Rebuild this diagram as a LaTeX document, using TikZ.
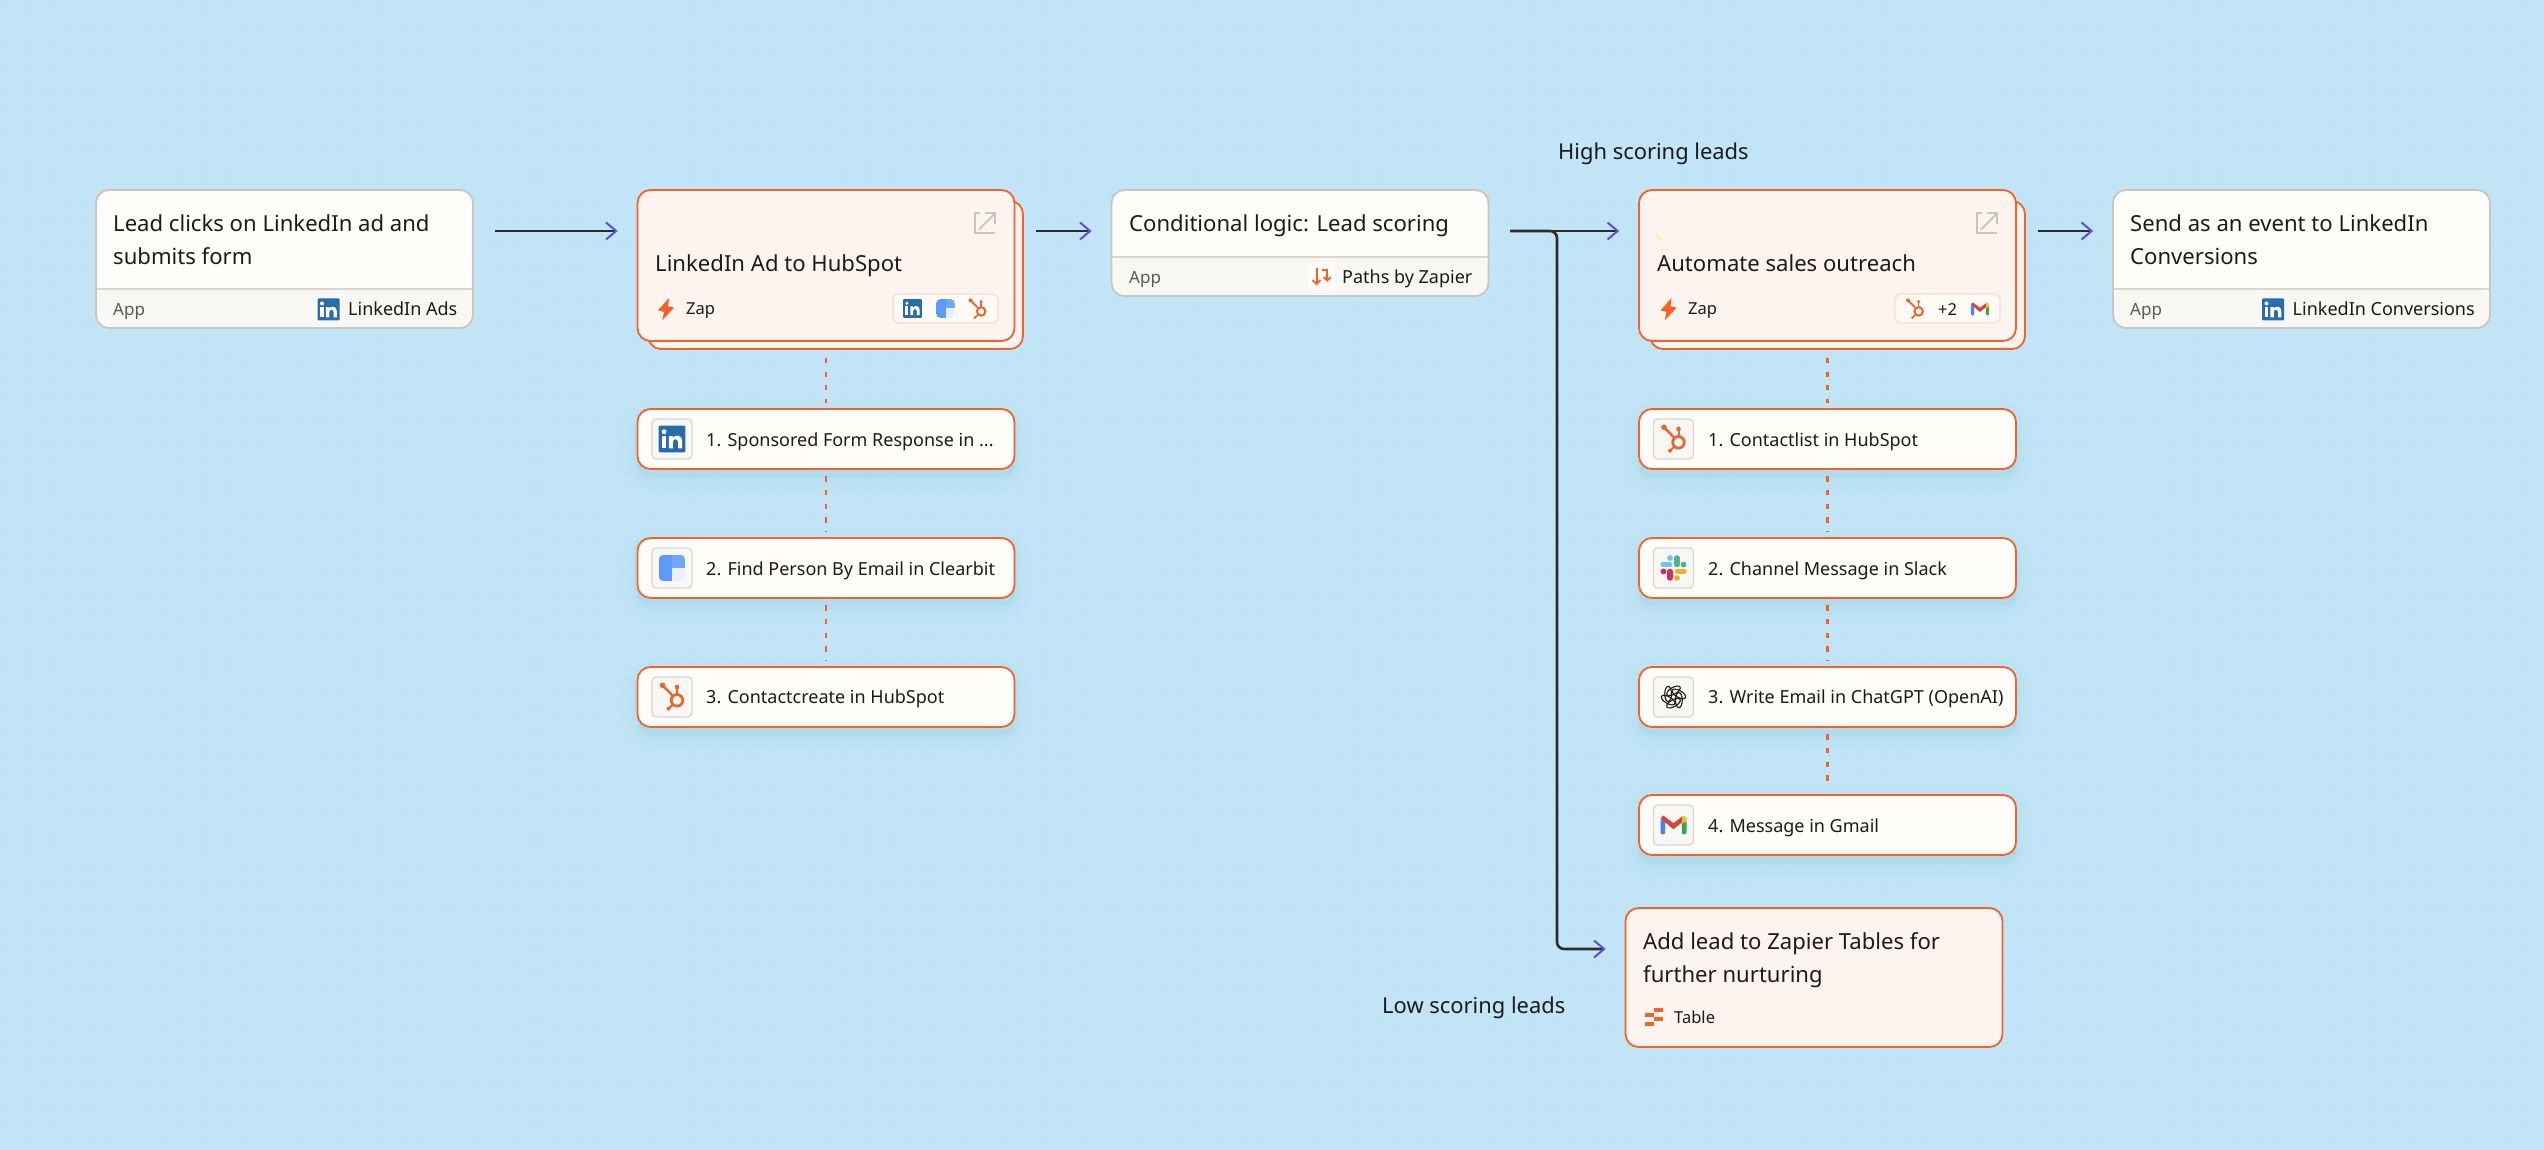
\documentclass[tikz,border=0pt]{standalone}
\usepackage{fontspec}
\setmainfont{Noto Sans}
\usetikzlibrary{arrows.meta}
\definecolor{PageBlue}{HTML}{C1E5F6}
\definecolor{DotBlue}{HTML}{B9DFF2}
\definecolor{CardWhite}{HTML}{FFFDFA}
\definecolor{FootGrey}{HTML}{F8F7F4}
\definecolor{EdgeGrey}{HTML}{C9C6BF}
\definecolor{RuleGrey}{HTML}{D9D6CE}
\definecolor{ZapOrange}{HTML}{F4622A}
\definecolor{ZapFill}{HTML}{FDF4F0}
\definecolor{PillEdge}{HTML}{F9DCCD}
\definecolor{PillFill}{HTML}{FFFAF6}
\definecolor{LineDark}{HTML}{2F2B29}
\definecolor{TipPurple}{HTML}{5B4FD9}
\definecolor{InkDark}{HTML}{1D1A18}
\definecolor{InkGrey}{HTML}{5C5853}
\definecolor{InBlue}{HTML}{2A6CAB}
\definecolor{HubOrange}{HTML}{E8662F}
\definecolor{BitBlue}{HTML}{5E9AF8}
\definecolor{BitMid}{HTML}{6EA8FB}
\definecolor{BitPale}{HTML}{E7F1FE}
\definecolor{ShadowBlue}{HTML}{7FB4D6}
\tikzstyle{GridDot}=[draw=DotBlue, line width=1.5pt, dash pattern=on 1.5pt off 12.05pt]
\tikzstyle{CardNode}=[rectangle, rounded corners=13pt, line width=1.8pt, minimum width=377pt]
\tikzstyle{AppNode}=[CardNode, draw=EdgeGrey, fill=CardWhite, path picture={
  \fill[FootGrey] ([yshift=39pt]path picture bounding box.south west) rectangle (path picture bounding box.south east);
  \draw[RuleGrey, line width=1.6pt] ([yshift=39pt]path picture bounding box.south west) -- ([yshift=39pt]path picture bounding box.south east);}]
\tikzstyle{ZapNode}=[CardNode, draw=ZapOrange, fill=ZapFill]
\tikzstyle{StepNode}=[CardNode, draw=ZapOrange, fill=CardWhite, minimum height=60pt,
  preaction={fill=ShadowBlue, draw=ShadowBlue, fill opacity=.04, draw opacity=.04, line width=30pt, transform canvas={yshift=-8pt}},
  preaction={fill=ShadowBlue, draw=ShadowBlue, fill opacity=.04, draw opacity=.04, line width=18pt, transform canvas={yshift=-8pt}},
  preaction={fill=ShadowBlue, draw=ShadowBlue, fill opacity=.04, draw opacity=.04, line width=7pt, transform canvas={yshift=-8pt}}]
\tikzstyle{IconBox}=[rectangle, rounded corners=4pt, draw=RuleGrey, fill=FootGrey, line width=1.3pt, minimum size=40pt]
\tikzstyle{PillNode}=[rectangle, rounded corners=6pt, draw=PillEdge, fill=PillFill, line width=1.4pt, minimum width=105pt, minimum height=29pt]
\tikzstyle{PathsBox}=[rectangle, rounded corners=4pt, fill=CardWhite, minimum size=27pt]
\tikzstyle{TitleText}=[anchor=base west, inner sep=0pt, align=left, text=InkDark, font=\fontsize{22.1}{33}\selectfont]
\tikzstyle{NoteText}=[TitleText, font=\fontsize{21.9}{26}\selectfont]
\tikzstyle{StepText}=[anchor=base west, inner sep=0pt, text=InkDark, font=\fontsize{18}{22}\selectfont]
\tikzstyle{FootText}=[StepText, font=\fontsize{18}{22}\selectfont]
\tikzstyle{AppText}=[FootText, text=InkGrey, font=\fontsize{17}{22}\selectfont]
\tikzstyle{ZapText}=[StepText, font=\fontsize{16.5}{20}\selectfont]
\tikzstyle{FlowEdge}=[draw=LineDark, line width=2.6pt, shorten <=21pt, shorten >=19pt,
  -{Straight Barb[color=TipPurple, length=10pt, width=17pt, line width=2pt]}]
\tikzstyle{StepEdge}=[draw=ZapOrange, line width=2.6pt, dash pattern=on 5.3pt off 8.3pt, shorten <=6.5pt, shorten >=5.5pt]
\tikzstyle{FirstEdge}=[StepEdge, shorten <=16pt]
\tikzset{
  pics/InIcon/.style={code={\begin{scope}[scale=#1]
    \fill[InBlue, rounded corners=1pt] (-11,-11) rectangle (11,11);
    \fill[white] (-6.5,-6) circle (2);
    \fill[white] (-8.2,-2.4) rectangle (-4.8,7.8);
    \fill[white] (-2.6,-2.4) -- (0.5,-2.4) -- (0.5,-1) .. controls (2.5,-3.8) and (8.4,-3.8) .. (8.4,2) -- (8.4,7.8) -- (5,7.8) -- (5,2.5) .. controls (5,-0.6) and (0.8,-0.6) .. (0.8,2.5) -- (0.8,7.8) -- (-2.6,7.8) -- cycle;
  \end{scope}}},
  pics/BitIcon/.style={code={\begin{scope}[scale=#1]
    \begin{scope}
      \clip[rounded corners=5pt] (-13.3,-13.3) rectangle (13.3,13.3);
      \fill[BitBlue] (-13.3,-13.3) rectangle (0,13.3);
      \fill[BitMid] (0,-13.3) rectangle (13.3,0);
      \fill[BitPale] (0,0) rectangle (13.3,13.3);
    \end{scope}
  \end{scope}}},
  pics/HubIcon/.style={code={\begin{scope}[scale=#1]
    \draw[HubOrange, line width=#1*2.8pt] (5,3.3) circle (5.8);
    \draw[HubOrange, line width=#1*2pt] (5,-10) -- (5,-2);
    \draw[HubOrange, line width=#1*2.4pt] (-9.5,-11.7) -- (1,-1);
    \draw[HubOrange, line width=#1*2pt] (-3.5,11.7) -- (1.5,7);
    \fill[HubOrange] (-9.5,-11.7) circle (2.8);
    \fill[HubOrange] (5,-10) circle (2.3);
    \fill[HubOrange] (-3.5,11.7) circle (2);
  \end{scope}}},
  pics/SlackIcon/.style={code={\begin{scope}[scale=#1]
    \draw[color={rgb,255:red,109;green,197;blue,238}, line width=5.4pt, line cap=round] (-10.5,-3.5) -- (-4,-3.5);
    \fill[color={rgb,255:red,109;green,197;blue,238}] (-3.5,-10) circle (2.9);
    \draw[color={rgb,255:red,77;green,181;blue,145}, line width=5.4pt, line cap=round] (3.5,-10) -- (3.5,-3.5);
    \fill[color={rgb,255:red,77;green,181;blue,145}] (10,-3.5) circle (2.9);
    \draw[color={rgb,255:red,236;green,178;blue,46}, line width=5.4pt, line cap=round] (4,3.5) -- (10.5,3.5);
    \fill[color={rgb,255:red,236;green,178;blue,46}] (3.5,10) circle (2.9);
    \draw[color={rgb,255:red,217;green,41;blue,95}, line width=5.4pt, line cap=round] (-3.5,3.5) -- (-3.5,10);
    \fill[color={rgb,255:red,217;green,41;blue,95}] (-10,3.5) circle (2.9);
  \end{scope}}},
  pics/GptIcon/.style={code={\begin{scope}[scale=#1]
    \foreach \a in {0,60,...,300}
      \draw[InkDark, line width=1.1pt, rotate=\a, shift={(0,-6.2)}, rotate=30] (0,0) ellipse (7.6 and 3.4);
  \end{scope}}},
  pics/GmailIcon/.style={code={\begin{scope}[scale=#1]
    \fill[color={rgb,255:red,66;green,133;blue,244}, rounded corners=1.5pt] (-13,-6) rectangle (-8.3,9.4);
    \fill[color={rgb,255:red,52;green,168;blue,83}, rounded corners=1.5pt] (8.3,-4) rectangle (13,9.4);
    \fill[color={rgb,255:red,247;green,188;blue,44}] (8.3,-8.2) -- (10.5,-9.6) -- (13,-6.5) -- (13,-3.5) -- (8.3,-1.5) -- cycle;
    \fill[color={rgb,255:red,217;green,69;blue,58}] (-13,-6.3) -- (-10.5,-9.6) -- (0,-1.8) -- (8.3,-8.2) -- (8.3,-2.4) -- (0,4.2) -- cycle;
  \end{scope}}},
  pics/BoltIcon/.style={code={\begin{scope}[scale=#1]
    \fill[ZapOrange] (3,-11) -- (-8,1.3) -- (-2,3) -- (-3.7,11.3) -- (8,-1.3) -- (2,-2.7) -- cycle;
  \end{scope}}},
  pics/ExtIcon/.style={code={\begin{scope}[scale=#1]
    \draw[EdgeGrey, line width=2pt] (-5,-10) -- (-10,-10) -- (-10,10) -- (10,10);
    \draw[EdgeGrey, line width=2pt] (-6,6) -- (10,-10);
    \draw[EdgeGrey, line width=2pt] (-0.5,-10) -- (10,-10) -- (10,1);
  \end{scope}}},
  pics/PathsIcon/.style={code={\begin{scope}[scale=#1]
    \draw[ZapOrange, line width=2pt] (-5,-8) -- (-5,7.5);
    \draw[ZapOrange, line width=2pt] (-9,3.5) -- (-5,7.5) -- (-1,3.5);
    \draw[ZapOrange, line width=2pt] (0,-6.7) -- (5.7,-6.7) -- (5.7,4);
    \draw[ZapOrange, line width=2pt] (2.2,0.6) -- (5.7,4) -- (9.2,0.6);
  \end{scope}}},
  pics/TableIcon/.style={code={\begin{scope}[scale=#1]
    \fill[ZapOrange] (0,-9) rectangle (9,-5);
    \fill[ZapOrange] (-9,-4) rectangle (0,0);
    \fill[ZapOrange] (0,0.3) rectangle (9,4.3);
    \fill[ZapOrange] (-9,5) rectangle (0,9);
  \end{scope}}}
}

\begin{document}
\begin{tikzpicture}[x=1pt, y=-1pt]
\useasboundingbox (0,0) rectangle (2544,1150);
\fill[PageBlue] (0,0) rectangle (2544,1150);
\foreach \gy in {0,...,84}
  \draw[GridDot] (0,\gy*13.55) -- (2544,\gy*13.55);
\coordinate (RowY) at (0,231);
\coordinate (RowZ) at (0,949);
\coordinate (Branch) at (1557,231);

% top row
\node[AppNode, minimum height=138pt](Lead) at (284.5,259) {};
\node[ZapNode, minimum width=375pt, minimum height=148pt](ZapAback) at (835.5,275) {};
\node[ZapNode, minimum height=151pt](ZapA) at (826,265.5) {};
\node[AppNode, minimum height=106pt](Logic) at (1300,243) {};
\node[ZapNode, minimum width=375pt, minimum height=148pt](ZapBback) at (1837.5,275) {};
\node[ZapNode, minimum height=151pt](ZapB) at (1827.5,265.5) {};
\node[AppNode, minimum height=138pt](Send) at (2301.5,259) {};
\node[ZapNode, minimum height=139pt](Tables) at (1814,977.5) {};

% steps
\node[StepNode](StepA1) at (826,439) {};
\node[StepNode](StepA2) at (826,568) {};
\node[StepNode](StepA3) at (826,697) {};
\node[StepNode](StepB1) at (1827.5,439) {};
\node[StepNode](StepB2) at (1827.5,568) {};
\node[StepNode](StepB3) at (1827.5,697) {};
\node[StepNode](StepB4) at (1827.5,825) {};

\draw[FirstEdge](ZapA) -- (StepA1);
\draw[StepEdge](StepA1) -- (StepA2);
\draw[StepEdge](StepA2) -- (StepA3);
\draw[FirstEdge](ZapB) -- (StepB1);
\draw[StepEdge](StepB1) -- (StepB2);
\draw[StepEdge](StepB2) -- (StepB3);
\draw[StepEdge](StepB3) -- (StepB4);

\draw[FlowEdge](Lead.east |- RowY) -- (ZapA.west |- RowY);
\draw[FlowEdge](ZapA.east |- RowY) -- (Logic.west |- RowY);
\draw[FlowEdge, rounded corners=7pt](Logic.east |- RowY) -- (Branch) -- (Branch |- RowZ) -- (Tables.west |- RowZ);
\draw[FlowEdge](Logic.east |- RowY) -- (ZapB.west |- RowY);
\draw[FlowEdge](ZapB.east |- RowY) -- (Send.west |- RowY);

% card texts
\node[TitleText](LeadTxt) at (113,265) {Lead clicks on LinkedIn ad and\\submits form};
\node[AppText](LeadApp) at (113,315.5) {App};
\node[FootText](LeadFoot) at (348,315.5) {LinkedIn Ads};
\pic at (328.5,309.5) {InIcon=1};

\node[TitleText](ZapATxt) at (655,272) {LinkedIn Ad to HubSpot};
\node[ZapText](ZapAKind) at (686,315) {Zap};
\pic at (666,309) {BoltIcon=1};
\pic at (985,223.5) {ExtIcon=1};
\node[PillNode](ZapAPill) at (945.5,308.5) {};
\pic at (912.5,308.5) {InIcon=.86};
\pic at (945.5,308.5) {BitIcon=.72};
\pic at (977.5,309) {HubIcon=.73};

\node[TitleText](LogicTxt) at (1129,232) {Conditional logic: Lead scoring};
\node[AppText](LogicApp) at (1129,283.5) {App};
\node[PathsBox](LogicBox) at (1321.5,276.5) {};
\pic at (1321.5,276.5) {PathsIcon=1};
\node[FootText](LogicFoot) at (1342,283.5) {Paths by Zapier};

\fill[yellow!70!ZapFill] (1656,234) .. controls (1657,238) and (1659,239.5) .. (1662,240) .. controls (1659,238) and (1658,236) .. (1656,234);
\node[TitleText](ZapBTxt) at (1657,272) {Automate sales outreach};
\node[ZapText](ZapBKind) at (1688,315) {Zap};
\pic at (1668.5,309) {BoltIcon=1};
\pic at (1987,223.5) {ExtIcon=1};
\node[PillNode](ZapBPill) at (1947.5,308.5) {};
\pic at (1915,309) {HubIcon=.73};
\node[ZapText](ZapBMore) at (1938,315.5) {+2};
\pic at (1980,309) {GmailIcon=.7};

\node[TitleText](SendTxt) at (2130,265) {Send as an event to LinkedIn\\Conversions};
\node[AppText](SendApp) at (2130,315.5) {App};
\node[FootText](SendFoot) at (2292.5,315.5) {LinkedIn Conversions};
\pic at (2273,309.5) {InIcon=1};

\node[TitleText](TablesTxt) at (1643,982) {Add lead to Zapier Tables for\\further nurturing};
\node[ZapText](TablesKind) at (1674,1023.5) {Table};
\pic at (1654,1017) {TableIcon=1};

% step texts
\node[IconBox](IconA1) at (672,439) {};
\pic at (IconA1) {InIcon=1.21};
\node[StepText](TxtA1) at (706,446.5) {1. Sponsored Form Response in \textbf{...}};
\node[IconBox](IconA2) at (672,568) {};
\pic at (IconA2) {BitIcon=1};
\node[StepText](TxtA2) at (706,575) {2. Find Person By Email in Clearbit};
\node[IconBox](IconA3) at (672,697) {};
\pic at (IconA3) {HubIcon=1};
\node[StepText](TxtA3) at (706,703.5) {3. Contactcreate in HubSpot};

\node[IconBox](IconB1) at (1673.5,439) {};
\pic at (IconB1) {HubIcon=1};
\node[StepText](TxtB1) at (1708,446.5) {1. Contactlist in HubSpot};
\node[IconBox](IconB2) at (1673.5,568) {};
\pic at (IconB2) {SlackIcon=1};
\node[StepText](TxtB2) at (1708,575) {2. Channel Message in Slack};
\node[IconBox](IconB3) at (1673.5,697) {};
\pic at (IconB3) {GptIcon=1};
\node[StepText](TxtB3) at (1708,703.5) {3. Write Email in ChatGPT (OpenAI)};
\node[IconBox](IconB4) at (1673.5,825) {};
\pic at (IconB4) {GmailIcon=1};
\node[StepText](TxtB4) at (1708,832) {4. Message in Gmail};

% branch labels
\node[NoteText](HighTxt) at (1558,160) {High scoring leads};
\node[NoteText](LowTxt) at (1382,1013.5) {Low scoring leads};
\end{tikzpicture}
\end{document}
